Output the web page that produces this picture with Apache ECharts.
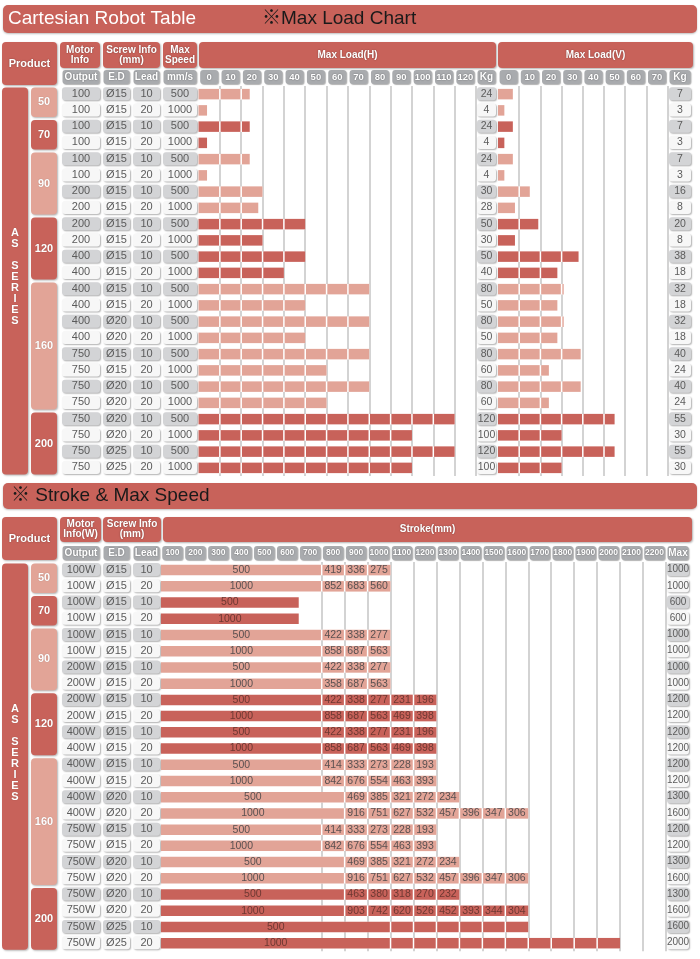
<!DOCTYPE html>
<html><head><meta charset="utf-8">
<script src="https://cdn.jsdelivr.net/npm/echarts/dist/echarts.min.js"></script>
<style>html,body{margin:0;padding:0;background:#fff}#c{width:700px;height:959px}</style>
</head><body><div id="c"></div><script>
// ---------------- DATA ----------------
const seriesName = 'AS SERIES';
const productSizes = ['50', '70', '90', '120', '160', '200'];
const productRowCounts = [2, 2, 4, 4, 8, 4];

// Max Load chart
const loadOutput = ['100','100','100','100','100','100','200','200','200','200','400','400','400','400','400','400','750','750','750','750','750','750','750','750'];
const loadED = ['Ø15','Ø15','Ø15','Ø15','Ø15','Ø15','Ø15','Ø15','Ø15','Ø15','Ø15','Ø15','Ø15','Ø15','Ø20','Ø20','Ø15','Ø15','Ø20','Ø20','Ø20','Ø20','Ø25','Ø25'];
const loadLead = [10,20,10,20,10,20,10,20,10,20,10,20,10,20,10,20,10,20,10,20,10,20,10,20];
const loadSpeed = [500,1000,500,1000,500,1000,500,1000,500,1000,500,1000,500,1000,500,1000,500,1000,500,1000,500,1000,500,1000];
const loadH = [24,4,24,4,24,4,30,28,50,30,50,40,80,50,80,50,80,60,80,60,120,100,120,100];
const loadV = [7,3,7,3,7,3,16,8,20,8,38,18,32,18,32,18,40,24,40,24,55,30,55,30];
// vertical-load bar lengths as drawn in the picture
const loadVBar = [7,3,7,3,7,3,15,8,19,8,38,28,31,28,31,28,39,24,39,24,55,30,55,30];
const loadHTicks = ['0','10','20','30','40','50','60','70','80','90','100','110','120'];
const loadVTicks = ['0','10','20','30','40','50','60','70'];

// Stroke & Max Speed
const strokeOutput = ['100W','100W','100W','100W','100W','100W','200W','200W','200W','200W','400W','400W','400W','400W','400W','400W','750W','750W','750W','750W','750W','750W','750W','750W'];
const strokeED = ['Ø15','Ø15','Ø15','Ø15','Ø15','Ø15','Ø15','Ø15','Ø15','Ø15','Ø15','Ø15','Ø15','Ø15','Ø20','Ø20','Ø15','Ø15','Ø20','Ø20','Ø20','Ø20','Ø25','Ø25'];
const strokeLead = [10,20,10,20,10,20,10,20,10,20,10,20,10,20,10,20,10,20,10,20,10,20,10,20];
const strokeSpeed = [500,1000,500,1000,500,1000,500,1000,500,1000,500,1000,500,1000,500,1000,500,1000,500,1000,500,1000,500,1000];
const strokeConstTo = [700,700,600,600,700,700,700,700,700,700,700,700,700,700,800,800,700,700,800,800,800,800,1000,1000];
const strokeReduced = [
  [419,336,275],[852,683,560],[],[],
  [422,338,277],[858,687,563],[422,338,277],[358,687,563],
  [422,338,277,231,196],[858,687,563,469,398],[422,338,277,231,196],[858,687,563,469,398],
  [414,333,273,228,193],[842,676,554,463,393],[469,385,321,272,234],[916,751,627,532,457,396,347,306],
  [414,333,273,228,193],[842,676,554,463,393],[469,385,321,272,234],[916,751,627,532,457,396,347,306],
  [463,380,318,270,232],[903,742,620,526,452,393,344,304],[],[]
];
const strokeMax = [1000,1000,600,600,1000,1000,1000,1000,1200,1200,1200,1200,1200,1200,1300,1600,1200,1200,1300,1600,1300,1600,1600,2000];
const strokeTicks = ['100','200','300','400','500','600','700','800','900','1000','1100','1200','1300','1400','1500','1600','1700','1800','1900','2000','2100','2200'];

// ---------------- STYLE / LAYOUT ----------------
const FONT = "'Liberation Sans', Arial, 'Noto Sans CJK KR', sans-serif";
const NARROW = "'Liberation Sans Narrow', 'Liberation Sans', Arial, sans-serif";
const DARK = '#c8625a', LIGHT = '#e2a497', HEADGRAY = '#a9abae';
const CELLGRAY = '#d3d4d6', CELLWHITE = '#f7f7f7', TXT = '#5b5b5b', GRIDC = '#c4c4c4';
const TOP = {top: 86, height: 390};
const BOT = {top: 562, height: 389.3};

const rowGroup = [];
productRowCounts.forEach((n, g) => { for (let k = 0; k < n; k++) rowGroup.push(g); });
const rowColor = r => (rowGroup[r] % 2 === 0 ? LIGHT : DARK);
const rowIds = rowGroup.map((_, i) => String(i));

const grids = [], xAxis = [], yAxis = [], series = [], graphic = [];

function newGrid(l, r, sec) {
  grids.push({left: l, top: sec.top, width: r - l, height: sec.height});
  const gi = grids.length - 1;
  yAxis.push({type: 'category', gridIndex: gi, data: rowIds, inverse: true, show: false});
  return {gi, yi: yAxis.length - 1};
}
function headAxis(gi, labels, boxW, fs, split) {
  xAxis.push({
    type: 'category', gridIndex: gi, position: 'top', data: labels,
    axisLine: {show: false}, axisTick: {show: false},
    axisLabel: {
      interval: 0, margin: 2, width: boxW, height: 14, lineHeight: 14, align: 'center',
      backgroundColor: HEADGRAY, borderRadius: 3, color: '#fff', fontSize: fs,
      fontFamily: NARROW, fontWeight: 'bold',
      textShadowColor: 'rgba(0,0,0,0.45)', textShadowBlur: 1.5,
      shadowColor: 'rgba(0,0,0,0.3)', shadowBlur: 1, shadowOffsetX: 1, shadowOffsetY: 1
    },
    splitLine: split ? {show: true, interval: split, lineStyle: {color: GRIDC, width: 1.5}} : {show: false}
  });
  return xAxis.length - 1;
}
function txt(x, y, text, fill, font, align) {
  return {type: 'text', x: x, y: y, style: {text: text, fill: fill, font: font,
    textAlign: align || 'center', align: align || 'center', textVerticalAlign: 'middle', verticalAlign: 'middle'}};
}

function cellRender(values, fs) {
  return function (params, api) {
    const i = params.dataIndex;
    const c = api.coord([0, i]);
    const sz = api.size([1, 1]);
    const w = sz[0], h = 13;
    return {type: 'group', children: [
      {type: 'rect', shape: {x: c[0] - w / 2, y: c[1] - h / 2 - 0.5, width: w, height: h, r: 3},
        style: {fill: i % 2 === 0 ? CELLGRAY : CELLWHITE, shadowColor: 'rgba(0,0,0,0.3)', shadowBlur: 1.5, shadowOffsetX: 1, shadowOffsetY: 1}},
      txt(c[0], c[1] - 0.5, String(values[i]), TXT, fs + 'px ' + FONT)
    ]};
  };
}
function textColumn(l, r, sec, header, values, fs) {
  const g = newGrid(l, r, sec);
  const xi = headAxis(g.gi, [header], r - l - 1, 10);
  series.push({type: 'custom', xAxisIndex: xi, yAxisIndex: g.yi, data: values.map((v, i) => [0, i]),
    renderItem: cellRender(values, fs || 11)});
}

function productColumn(sec) {
  const g = newGrid(2, 57, sec);
  xAxis.push({type: 'category', gridIndex: g.gi, data: ['series', 'size'], show: false});
  const xi = xAxis.length - 1;
  const spans = [[0, 0, rowGroup.length - 1]];
  let s = 0;
  productRowCounts.forEach(n => { spans.push([1, s, s + n - 1]); s += n; });
  series.push({type: 'custom', xAxisIndex: xi, yAxisIndex: g.yi, data: spans,
    renderItem: function (params, api) {
      const idx = params.dataIndex;
      const col = api.value(0), r0 = api.value(1), r1 = api.value(2);
      const a = api.coord([col, r0]), b = api.coord([col, r1]);
      const sz = api.size([1, 1]);
      const x = a[0] - sz[0] / 2 + (col === 0 ? 0 : 1.5), w = sz[0] - 1.5;
      const y = a[1] - sz[1] / 2 + 1.5, h = b[1] - a[1] + sz[1] - 3;
      const fill = col === 0 ? DARK : ((idx - 1) % 2 === 0 ? LIGHT : DARK);
      const label = col === 0 ? seriesName.split('').join('\n') : productSizes[idx - 1];
      const t = txt(x + w / 2, (y + h / 2) - (col === 0 ? 4 : 0), label, '#fff', 'bold 11px ' + FONT);
      t.style.lineHeight = 11;
      t.style.textShadowColor = 'rgba(0,0,0,0.3)'; t.style.textShadowBlur = 1;
      return {type: 'group', children: [
        {type: 'rect', shape: {x: x, y: y, width: w, height: h, r: 4},
          style: {fill: fill, shadowColor: 'rgba(0,0,0,0.3)', shadowBlur: 2, shadowOffsetX: 1, shadowOffsetY: 1}},
        t
      ]};
    }});
}

function segBarRender(step, values) {
  return function (params, api) {
    const v = api.value(0), row = api.value(1);
    const y = api.coord([0, row])[1];
    const X = t => api.coord([t, row])[0];
    const H = 10.5, G = 0.75;
    const b = [0];
    for (let s = step; s < v; s += step) b.push(s);
    b.push(v);
    const ch = [{type: 'rect', shape: {x: X(0), y: y - H / 2, width: X(v) - X(0), height: H}, style: {fill: '#fff'}}];
    for (let k = 0; k < b.length - 1; k++) {
      const x0 = X(b[k]) + (k > 0 ? G : 0), x1 = X(b[k + 1]) - (k < b.length - 2 ? G : 0);
      ch.push({type: 'rect', shape: {x: x0, y: y - H / 2, width: Math.max(0.5, x1 - x0), height: H}, style: {fill: rowColor(row)}});
    }
    return {type: 'group', children: ch};
  };
}

function strokeRender(params, api) {
  const i = params.dataIndex;
  const max = api.value(0), row = api.value(1);
  const y = api.coord([0, row])[1];
  const X = t => api.coord([t, row])[0];
  const H = 10.5, G = 0.75;
  const b = [0, strokeConstTo[i]];
  for (let s = strokeConstTo[i] + 100; s <= max; s += 100) b.push(s);
  const dark = rowGroup[row] % 2 === 1;
  const tc = dark ? '#6e3832' : '#5a5050';
  const ch = [{type: 'rect', shape: {x: X(0), y: y - H / 2, width: X(max) - X(0), height: H}, style: {fill: '#fff'}}];
  for (let k = 0; k < b.length - 1; k++) {
    const x0 = X(b[k]) + (k > 0 ? G : 0), x1 = X(b[k + 1]) - (k < b.length - 2 ? G : 0);
    ch.push({type: 'rect', shape: {x: x0, y: y - H / 2, width: x1 - x0, height: H}, style: {fill: rowColor(row)}});
    const label = k === 0 ? strokeSpeed[i] : strokeReduced[i][k - 1];
    if (label !== undefined) ch.push(txt((X(b[k]) + X(b[k + 1])) / 2, y, String(label), tc, '10.5px ' + FONT));
  }
  return {type: 'group', children: ch};
}

function chartGrid(l, r, sec, max, labels, boxW, fs, split) {
  const g = newGrid(l, r, sec);
  xAxis.push({type: 'value', gridIndex: g.gi, position: 'bottom', min: 0, max: max, show: false});
  const vx = xAxis.length - 1;
  const hx = headAxis(g.gi, labels, boxW, fs, split);
  return {gi: g.gi, yi: g.yi, vx, hx};
}

// ---------------- TOP SECTION ----------------
productColumn(TOP);
textColumn(62, 100, TOP, 'Output', loadOutput);
textColumn(103, 130, TOP, 'E.D', loadED);
textColumn(133, 160, TOP, 'Lead', loadLead);
textColumn(163, 197, TOP, 'mm/s', loadSpeed);
const HG = chartGrid(198.5, 476, TOP, 130, loadHTicks, 18, 9.5, idx => idx >= 1 && idx <= 12);
series.push({type: 'custom', xAxisIndex: HG.vx, yAxisIndex: HG.yi, data: loadH.map((v, i) => [v, i]), renderItem: segBarRender(10)});
textColumn(477, 496, TOP, 'Kg', loadH, 10.5);
const VG = chartGrid(498, 667.6, TOP, 80, loadVTicks, 18, 9.5, idx => idx >= 1 && idx <= 7);
series.push({type: 'custom', xAxisIndex: VG.vx, yAxisIndex: VG.yi, data: loadVBar.map((v, i) => [v, i]), renderItem: segBarRender(10)});
textColumn(669, 691, TOP, 'Kg', loadV, 10.5);

// ---------------- BOTTOM SECTION ----------------
productColumn(BOT);
textColumn(62, 100, BOT, 'Output', strokeOutput);
textColumn(103, 130, BOT, 'E.D', strokeED);
textColumn(133, 160, BOT, 'Lead', strokeLead);
const SG = chartGrid(161, 666, BOT, 2200, strokeTicks, 20.5, 8.5, idx => idx >= 7 && idx <= 21);
series.push({type: 'custom', xAxisIndex: SG.vx, yAxisIndex: SG.yi, data: strokeMax.map((m, i) => [m, i]), renderItem: strokeRender});
textColumn(667, 689, BOT, 'Max', strokeMax, 10);

// ---------------- TITLES & HEADERS ----------------
function bar(x1, y1, x2, y2) {
  graphic.push({type: 'rect', shape: {x: x1, y: y1, width: x2 - x1, height: y2 - y1, r: 5},
    style: {fill: DARK, shadowColor: 'rgba(0,0,0,0.25)', shadowBlur: 2, shadowOffsetY: 1}});
}
function headBox(x1, x2, y1, y2, text, fs) {
  graphic.push({type: 'rect', shape: {x: x1, y: y1, width: x2 - x1, height: y2 - y1, r: 4},
    style: {fill: DARK, shadowColor: 'rgba(0,0,0,0.3)', shadowBlur: 2, shadowOffsetX: 1, shadowOffsetY: 1}});
  const t = txt((x1 + x2) / 2, (y1 + y2) / 2, text, '#fff', 'bold ' + fs + 'px ' + NARROW);
  t.style.lineHeight = fs;
  t.style.textShadowColor = 'rgba(0,0,0,0.45)'; t.style.textShadowBlur = 1.5;
  graphic.push(t);
}
bar(3, 5, 697, 33);
graphic.push(txt(8, 19, 'Cartesian Robot Table', '#fff', '19px ' + FONT, 'left'));
graphic.push(txt(262, 19, '※Max Load Chart', '#1a1a1a', '19px ' + FONT, 'left'));
headBox(2, 57, 42, 85, 'Product', 11);
headBox(60, 100, 42, 68, 'Motor\nInfo', 10);
headBox(103, 160, 42, 68, 'Screw Info\n(mm)', 10);
headBox(163, 197, 42, 68, 'Max\nSpeed', 10);
headBox(199, 496, 42, 68, 'Max Load(H)', 10);
headBox(498, 693, 42, 68, 'Max Load(V)', 10);

bar(3, 483, 697, 509);
graphic.push(txt(11, 496, '※ Stroke & Max Speed', '#1a1a1a', '19px ' + FONT, 'left'));
headBox(2, 57, 517, 560, 'Product', 11);
headBox(60, 101, 517, 542, 'Motor\nInfo(W)', 10);
headBox(103, 161, 517, 542, 'Screw Info\n(mm)', 10);
headBox(163, 692, 517, 542, 'Stroke(mm)', 10);

const chart = echarts.init(document.getElementById('c'), null, {renderer: 'canvas'});
chart.setOption({
  animation: false,
  backgroundColor: '#fff',
  grid: grids, xAxis: xAxis, yAxis: yAxis, series: series,
  graphic: {elements: graphic}
});
</script></body></html>
